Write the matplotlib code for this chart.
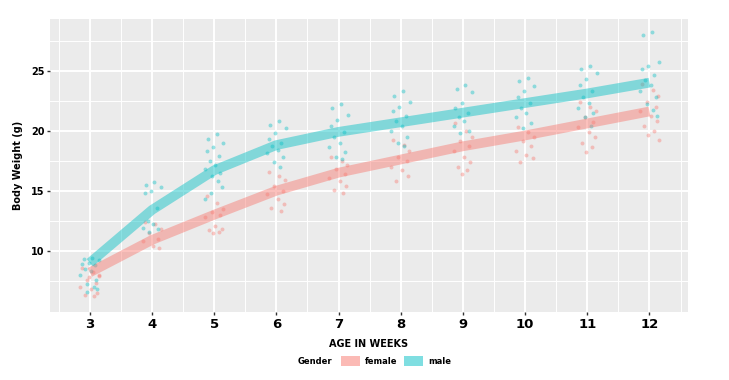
import numpy as np
import matplotlib.pyplot as plt
from matplotlib.patches import Patch

# weeks and smooth (fitted) curves
weeks = [3, 4, 5, 6, 7, 8, 9, 10, 11, 12]
male_smooth = [9.0, 13.4, 16.7, 18.8, 19.9, 20.7, 21.5, 22.3, 23.1, 24.0]
female_smooth = [8.2, 10.9, 13.0, 15.0, 16.5, 17.6, 18.7, 19.6, 20.6, 21.6]

# individual body weights per week
male_points = [
    [9.4, 9.3, 9.2, 9.0, 8.9, 8.8, 8.5, 8.3, 8.0, 7.6, 7.2, 7.0, 6.8, 6.6],
    [15.7, 15.5, 15.3, 15.0, 14.8, 13.6, 12.5, 12.2, 11.9, 11.8, 11.6],
    [19.7, 19.3, 19.0, 18.6, 18.3, 17.9, 17.5, 17.1, 16.8, 16.5, 16.2, 15.8, 15.3, 14.8, 14.3],
    [20.8, 20.5, 20.2, 19.8, 19.3, 19.0, 18.7, 18.4, 18.1, 17.8, 17.4, 17.0],
    [22.2, 21.9, 21.3, 20.9, 20.4, 19.9, 19.5, 19.0, 18.6, 18.2, 17.8, 17.6],
    [23.3, 22.9, 22.4, 22.0, 21.6, 21.2, 20.8, 20.4, 20.0, 19.5, 19.0, 18.7],
    [23.8, 23.5, 23.2, 22.3, 21.9, 21.5, 21.1, 20.8, 20.4, 20.0, 19.8],
    [24.4, 24.1, 23.7, 23.3, 22.8, 22.3, 21.9, 21.5, 21.1, 20.6, 20.2],
    [25.4, 25.1, 24.8, 24.3, 23.8, 23.3, 22.8, 22.3, 21.9, 21.5, 21.1, 20.4],
    [28.2, 28.0, 25.7, 25.4, 25.1, 24.6, 24.2, 23.8, 23.3, 22.8, 22.2, 21.7, 21.2],
]
female_points = [
    [8.6, 8.2, 7.9, 7.6, 7.3, 7.0, 6.8, 6.5, 6.3, 6.2, 7.8, 8.0],
    [12.4, 12.2, 11.8, 11.5, 11.0, 10.8, 10.4, 10.2],
    [14.6, 14.0, 13.5, 13.2, 13.0, 12.8, 12.1, 11.8, 11.7, 11.6, 11.5],
    [16.6, 16.2, 15.9, 15.4, 15.0, 14.7, 14.3, 13.9, 13.6, 13.3],
    [17.8, 17.5, 17.1, 16.8, 16.4, 16.1, 15.8, 15.4, 15.1, 14.8],
    [19.2, 18.8, 18.3, 17.8, 17.5, 17.0, 16.7, 16.2, 15.8],
    [20.6, 20.0, 19.5, 19.1, 18.7, 18.3, 17.8, 17.4, 17.0, 16.7, 16.4],
    [20.3, 19.9, 19.5, 19.1, 18.7, 18.3, 18.0, 17.7, 17.4],
    [22.4, 22.0, 21.6, 21.1, 20.7, 20.3, 19.9, 19.5, 19.0, 18.6, 18.2],
    [23.9, 23.4, 22.9, 22.4, 22.0, 21.6, 21.2, 20.8, 20.4, 20.0, 19.6, 19.2],
]
# horizontal jitter of the points (weeks)
jitter = [-0.12, 0.05, 0.14, -0.04, 0.10, -0.15, 0.02, 0.12, -0.08, 0.07, -0.02, 0.15, -0.10, 0.04, -0.06]

male_col = '#00BFC4'
female_col = '#F8766D'

fig = plt.figure(figsize=(7.29, 3.8), dpi=100)
ax = fig.add_axes([50/729, 68/380, 638/729, 293/380])
ax.set_facecolor('#EBEBEB')

# points
for w, fp, mp in zip(weeks, female_points, male_points):
    fx = [w + jitter[i % len(jitter)] for i in range(len(fp))]
    mx = [w - jitter[(i + 3) % len(jitter)] for i in range(len(mp))]
    ax.scatter(fx, fp, s=8, color=female_col, alpha=0.4, linewidths=0, zorder=3)
    ax.scatter(mx, mp, s=8, color=male_col, alpha=0.4, linewidths=0, zorder=3)

# smooth lines
ax.plot(weeks, female_smooth, color=female_col, lw=7, alpha=0.45,
        solid_capstyle='butt', solid_joinstyle='round', zorder=4)
ax.plot(weeks, male_smooth, color=male_col, lw=7, alpha=0.45,
        solid_capstyle='butt', solid_joinstyle='round', zorder=4)

ax.set_xlim(2.36, 12.62)
ax.set_ylim(4.9, 29.3)
ax.set_xticks(weeks)
ax.set_xticks(np.arange(2.5, 13, 1), minor=True)
ax.set_yticks([10, 15, 20, 25])
ax.set_yticks([7.5, 12.5, 17.5, 22.5, 27.5], minor=True)
ax.grid(True, which='major', color='white', lw=1.4)
ax.grid(True, which='minor', color='white', lw=0.7)
ax.set_axisbelow(True)
for s in ax.spines.values():
    s.set_visible(False)

ax.tick_params(axis='both', which='minor', length=0)
ax.tick_params(axis='y', which='major', length=2, width=1, color='#333333', pad=2,
               labelsize=7)
ax.tick_params(axis='x', which='major', length=2, width=1, color='#333333', pad=2,
               labelsize=9.5)
for lab in ax.get_xticklabels() + ax.get_yticklabels():
    lab.set_fontweight('bold')

ax.set_ylabel('Body Weight (g)', fontsize=7, fontweight='bold', labelpad=6)
ax.set_xlabel('AGE IN WEEKS', fontsize=7, fontweight='bold', labelpad=6)

# legend
handles = [Patch(facecolor=female_col, alpha=0.5, edgecolor='none'),
           Patch(facecolor=male_col, alpha=0.5, edgecolor='none')]
fig.legend(handles, ['female', 'male'], loc='center', ncol=2,
           bbox_to_anchor=(396/729, 1 - 361/380), frameon=False,
           prop={'size': 6, 'weight': 'bold'}, handlelength=2.3, handleheight=1.6,
           handletextpad=0.6, columnspacing=0.8, borderpad=0.1)
fig.text(315/729, 1 - 361/380, 'Gender', ha='center', va='center',
         fontsize=6, fontweight='bold')

fig.savefig('out.png', dpi=100)
